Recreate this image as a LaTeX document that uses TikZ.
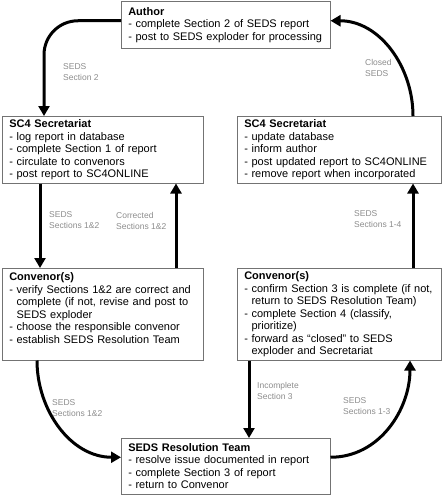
\documentclass[tikz,border=0pt]{standalone}
\usepackage{fontspec}
\setmainfont{Liberation Sans}
\usepackage{tikz}
\usetikzlibrary{arrows.meta, positioning, calc}

\begin{document}
\begin{tikzpicture}[
      x=1pt, y=1pt,
      stage/.style={draw=black!55, line width=0.5pt, anchor=north west, align=left,
        inner xsep=7pt, inner ysep=3pt, font=\fontsize{11}{12.5}\selectfont},
      arrow/.style={-{Triangle[length=10pt, width=11pt]}, line width=3pt},
      note/.style={anchor=north west, align=left, inner sep=0pt, text=black!45,
        font=\fontsize{8.5}{11}\selectfont}
    ]
    \useasboundingbox (0,0) rectangle (442,-495);

    \node[stage, text width=195pt, minimum height=47pt] (author) at (121,-1)
      {\textbf{Author}\\
       - complete Section 2 of SEDS report\\
       - post to SEDS exploder for processing};
    \node[stage, text width=187pt, minimum height=67pt] (secL) at (2,-116)
      {\textbf{SC4 Secretariat}\\
       - log report in database\\
       - complete Section 1 of report\\
       - circulate to convenors\\
       - post report to SC4ONLINE};
    \node[stage, text width=190pt, minimum height=67pt] (secR) at (237,-116)
      {\textbf{SC4 Secretariat}\\
       - update database\\
       - inform author\\
       - post updated report to SC4ONLINE\\
       - remove report when incorporated};
    \node[stage, text width=187pt, minimum height=92pt] (convL) at (2,-268)
      {\textbf{Convenor(s)}\\
       - verify Sections 1\&2 are correct and\\
       \phantom{- }complete (if not, revise and post to\\
       \phantom{- }SEDS exploder\\
       - choose the responsible convenor\\
       - establish SEDS Resolution Team\\
       \mbox{}};
    \node[stage, text width=190pt, minimum height=92pt] (convR) at (237,-268)
      {\textbf{Convenor(s)}\\
       - confirm Section 3 is complete (if not,\\
       \phantom{- }return to SEDS Resolution Team)\\
       - complete Section 4 (classify,\\
       \phantom{- }prioritize)\\
       - forward as “closed” to SEDS\\
       \phantom{- }exploder and Secretariat};
    \node[stage, text width=195pt, minimum height=56pt] (res) at (121,-438)
      {\textbf{SEDS Resolution Team}\\
       - resolve issue documented in report\\
       - complete Section 3 of report\\
       - return to Convenor};

    \draw[arrow, rounded corners=34pt] ([yshift=4pt]author.west) -| ([xshift=42pt]secL.north west);
    \draw[arrow] ([xshift=176pt]secR.north west) to[out=90, in=0] ([yshift=4pt]author.east);

    \draw[arrow] ([xshift=38pt]secL.south west) coordinate (s12) -- (s12 |- convL.north);
    \draw[arrow] ([xshift=174pt]convL.north west) coordinate (c12) -- (c12 |- secL.south);
    \draw[arrow] ([xshift=176pt]convR.north west) coordinate (s14) -- (s14 |- secR.south);

    \draw[arrow] ([xshift=35pt]convL.south west) to[out=-90, in=180] ([yshift=9pt]res.west);
    \draw[arrow] ([xshift=12pt]convR.south west) coordinate (inc) -- (inc |- res.north);
    \draw[arrow] ([yshift=9pt]res.east) to[out=0, in=-90] ([xshift=173pt]convR.south west);

    \node[note] (lsec2) at (63,-63) {SEDS\\Section 2};
    \node[note] (lclosed) at (365,-59) {Closed\\SEDS};
    \node[note] (lsec12a) at (49,-211) {SEDS\\Sections 1\&2};
    \node[note] (lcorr) at (116,-212) {Corrected\\Sections 1\&2};
    \node[note] (lsec14) at (354,-210) {SEDS\\Sections 1-4};
    \node[note] (lsec12b) at (52,-399) {SEDS\\Sections 1\&2};
    \node[note] (linc) at (257,-382) {Incomplete\\Section 3};
    \node[note] (lsec13) at (343,-397) {SEDS\\Sections 1-3};
  \end{tikzpicture}
\end{document}
